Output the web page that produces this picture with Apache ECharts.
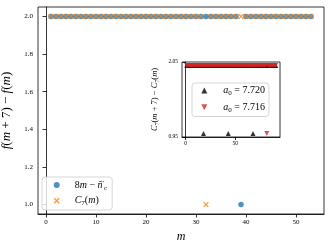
<!DOCTYPE html>
<html><head><meta charset="utf-8">
<script src="https://cdn.jsdelivr.net/npm/echarts@6/dist/echarts.min.js"></script>
<style>html,body{margin:0;padding:0;background:#fff}#c{width:332px;height:249px}</style>
</head><body><div id="c"></div>
<script>
// ---- data ----
const mMain = [1,2,3,4,5,6,7,8,9,10,11,12,13,14,15,16,17,18,19,20,
  21,22,23,24,25,26,27,28,29,30,31,32,33,34,35,36,37,38,39,40,
  41,42,43,44,45,46,47,48,49,50,51,52,53];
const diffN = [2,2,2,2,2,2,2,2,2,2, 2,2,2,2,2,2,2,2,2,2,
  2,2,2,2,2,2,2,2,2,2, 2,2,2,2,2,2,2,2,1,2,
  2,2,2,2,2,2,2,2,2,2, 2,2,2];
const diffC7 = [2,2,2,2,2,2,2,2,2,2, 2,2,2,2,2,2,2,2,2,2,
  2,2,2,2,2,2,2,2,2,2, 2,1,2,2,2,2,2,2,2,2,
  2,2,2,2,2,2,2,2,2,2, 2,2,2];
const mInset = [1,2,3,4,5,6,7,8,9,10,11,12,13,14,15,16,17,18,19,20,
  21,22,23,24,25,26,27,28,29,30,31,32,33,34,35,36,37,38,39,40,
  41,42,43,44,45,46,47,48,49,50,51,52,53,54,55,56,57,58,59,60,
  61,62,63,64,65,66,67,68,69,70,71,72,73,74,75,76,77,78,79,80,
  81,82,83,84,85,86,87,88,89,90,91];
const diffA7720 = [2,2,2,2,2,2,2,2,2,2, 2,2,2,2,2,2,2,1,2,2,
  2,2,2,2,2,2,2,2,2,2, 2,2,2,2,2,2,2,2,2,2,
  2,2,1,2,2,2,2,2,2,2, 2,2,2,2,2,2,2,2,2,2,
  2,2,2,2,2,2,2,1,2,2, 2,2,2,2,2,2,2,2,2,2,
  2,2,2,2,2,2,2,2,2,2, 2];
const diffA7716 = [2,2,2,2,2,2,2,2,2,2, 2,2,2,2,2,2,2,2,2,2,
  2,2,2,2,2,2,2,2,2,2, 2,2,2,2,2,2,2,2,2,2,
  2,2,2,2,2,2,2,2,2,2, 2,2,2,2,2,2,2,2,2,2,
  2,2,2,2,2,2,2,2,2,2, 2,2,2,2,2,2,2,2,2,2,
  2,1,2,2,2,2,2,2,2,2, 2];
const mainYTicks = [1.0, 1.2, 1.4, 1.6, 1.8, 2.0];
const mainXTicks = [0, 10, 20, 30, 40, 50];
const insetYTicks = [0.95, 2.05];
const insetXTicks = [0, 50];

// ---- style ----
const F = "'Liberation Serif','DejaVu Serif',serif";
function rich(fs, gap) {
  return {
    g: {fontSize: fs, width: gap || 0},
    n: {fontFamily: F, fontSize: fs, verticalAlign: 'middle', color: '#000'},
    i: {fontFamily: F, fontSize: fs, fontStyle: 'italic', verticalAlign: 'middle', color: '#000'},
    sub: {fontFamily: F, fontSize: fs * 0.7, verticalAlign: 'middle', padding: [fs * 0.55, 0, 0, 0], color: '#000'},
    sup: {fontFamily: F, fontSize: fs * 0.7, verticalAlign: 'middle', padding: [0, 0, fs * 0.3, 0], color: '#000'}
  };
}
const xSym = 'path://M0,1.6 L1.6,0 L5,3.4 L8.4,0 L10,1.6 L6.6,5 L10,8.4 L8.4,10 L5,6.6 L1.6,10 L0,8.4 L3.4,5 Z';
const lab = {
  n8: '{g| }{n|8}{i|m}{n| − }{i|ñ}{sup|′}{sub|c}',
  c7: '{g| }{i|C}{sub|7}{n|(}{i|m}{n|)}',
  a720: '{g| }{i|a}{sub|0}{n| = 7.720}',
  a716: '{g| }{i|a}{sub|0}{n| = 7.716}'
};
const axLine = {show: true, lineStyle: {color: '#000', width: 0.8}};
const axTick = (len) => ({show: true, inside: false, length: len, lineStyle: {color: '#000', width: 0.8}});

const chart = echarts.init(document.getElementById('c'), null, {renderer: 'canvas'});
chart.setOption({
  backgroundColor: '#fff',
  animation: false,
  grid: [
    {left: 38, right: 8, top: 7, bottom: 35, show: true, borderColor: '#000', borderWidth: 0.8,
     backgroundColor: 'transparent', outerBoundsMode: 'none', containLabel: false},
    {left: 182, top: 62, width: 98, height: 75, show: true, borderColor: '#000', borderWidth: 0.8,
     backgroundColor: '#fff', z: 5, outerBoundsMode: 'none', containLabel: false}
  ],
  xAxis: [
    {type: 'value', gridIndex: 0, min: -1.6, max: 55.6, splitLine: {show: false},
     axisLine: axLine, axisTick: Object.assign(axTick(3.5), {customValues: mainXTicks}),
     axisLabel: {customValues: mainXTicks, fontFamily: F, fontSize: 7, color: '#000', margin: 5},
     name: '{i|m}', nameLocation: 'middle', nameGap: 16, nameTextStyle: {rich: rich(12)}},
    {type: 'value', gridIndex: 1, min: -3.75, max: 95.3, splitLine: {show: false}, z: 6,
     axisLine: axLine, axisTick: Object.assign(axTick(3), {customValues: insetXTicks}),
     axisLabel: {customValues: insetXTicks, fontFamily: F, fontSize: 5.5, color: '#000', margin: 4}}
  ],
  yAxis: [
    {type: 'value', gridIndex: 0, min: 0.95, max: 2.05, splitLine: {show: false},
     axisLine: axLine, axisTick: Object.assign(axTick(3.5), {customValues: mainYTicks}),
     axisLabel: {customValues: mainYTicks, fontFamily: F, fontSize: 7, color: '#000', margin: 5,
       formatter: v => v.toFixed(1)},
     name: '{i|f}{n|(}{i|m}{n| + 7) − }{i|f}{n|(}{i|m}{n|)}', nameLocation: 'middle', nameRotate: 90, nameGap: 16,
     nameTextStyle: {rich: rich(13)}},
    {type: 'value', gridIndex: 1, min: 0.95, max: 2.05, splitLine: {show: false}, z: 6,
     axisLine: axLine, axisTick: Object.assign(axTick(3), {customValues: insetYTicks}),
     axisLabel: {customValues: insetYTicks, fontFamily: F, fontSize: 5.5, color: '#000', margin: 4,
       formatter: v => v.toFixed(2)},
     name: '{i|C}{sub|7}{n|(}{i|m}{n| + 7) − }{i|C}{sub|7}{n|(}{i|m}{n|)}', nameLocation: 'middle', nameRotate: 90, nameGap: 22,
     nameTextStyle: {rich: rich(8.5)}}
  ],
  legend: [
    {orient: 'vertical', left: 42, top: 177, padding: [3, 5, 3, 11.7], itemWidth: 6, itemHeight: 6, itemGap: 4.5,
     backgroundColor: 'rgba(255,255,255,0.8)', borderColor: '#cccccc', borderWidth: 0.8, borderRadius: 3,
     data: [{name: 'n8', icon: 'circle'}, {name: 'c7', icon: xSym}],
     formatter: name => lab[name],
     textStyle: {fontFamily: F, fontSize: 10, rich: rich(10, 10)}},
    {orient: 'vertical', left: 192, top: 83, padding: [2.5, 4, 3, 9.3], itemWidth: 6, itemHeight: 6, itemGap: 5.5, z: 10,
     backgroundColor: 'rgba(255,255,255,0.8)', borderColor: '#cccccc', borderWidth: 0.8, borderRadius: 3,
     data: [{name: 'a720', icon: 'triangle'}, {name: 'a716', icon: 'path://M0,0 L10,0 L5,10 Z'}],
     formatter: name => lab[name],
     textStyle: {fontFamily: F, fontSize: 10, rich: rich(10, 11)}}
  ],
  series: [
    {type: 'scatter', name: 'n8', xAxisIndex: 0, yAxisIndex: 0, symbol: 'circle', symbolSize: 5.5,
     itemStyle: {color: '#1f77b4'}, z: 2, data: mMain.map((m, k) => [m, diffN[k]])},
    {type: 'scatter', name: 'c7', xAxisIndex: 0, yAxisIndex: 0, symbol: xSym, symbolSize: 5.5,
     itemStyle: {color: '#ff7f0e'}, z: 3, data: mMain.map((m, k) => [m, diffC7[k]])},
    {type: 'scatter', name: 'a720', xAxisIndex: 1, yAxisIndex: 1, symbol: 'triangle', symbolSize: 5,
     itemStyle: {color: '#000'}, z: 6, data: mInset.map((m, k) => [m, diffA7720[k]])},
    {type: 'scatter', name: 'a716', xAxisIndex: 1, yAxisIndex: 1, symbol: 'triangle', symbolRotate: 180, symbolSize: 5,
     itemStyle: {color: '#d62728'}, z: 7, data: mInset.map((m, k) => [m, diffA7716[k]])}
  ]
});
</script></body></html>
